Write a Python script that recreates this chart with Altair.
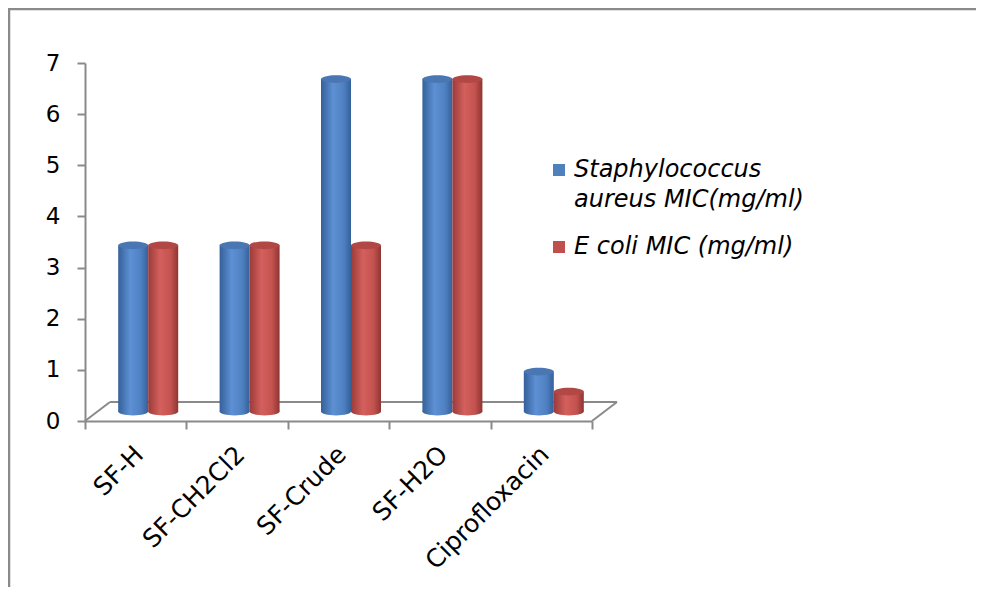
import altair as alt
import pandas as pd

# ---------------- data ----------------
categories = ["SF-H", "SF-CH2Cl2", "SF-Crude", "SF-H2O", "Ciprofloxacin"]
series = ["Staphylococcus aureus MIC(mg/ml)", "E coli MIC (mg/ml)"]
staph = [3.25, 3.25, 6.5, 6.5, 0.78]
ecoli = [3.25, 3.25, 3.25, 6.5, 0.39]
y_ticks = [0, 1, 2, 3, 4, 5, 6, 7]

rows = []
for c, s, e in zip(categories, staph, ecoli):
    rows.append({"category": c, "series": series[0], "value": s})
    rows.append({"category": c, "series": series[1], "value": e})
df = pd.DataFrame(rows)

# ---------------- styling ----------------
W, H = 507, 358
PAD = {"left": 77, "top": 55, "right": 386, "bottom": 168}
DX, DY = 12.5, 9.5          # depth offset of the pseudo-3D floor
BAR_W = 30
GRAY = "#8a8a8a"
FONT = "DejaVu Sans"
ELLIPSE = "M-1,0 A1,0.26 0 1,1 1,0 A1,0.26 0 1,1 -1,0 Z"

def grad(stops):
    return alt.Gradient(
        gradient="linear", x1=0, x2=1, y1=0, y2=0,
        stops=[alt.GradientStop(color=c, offset=o) for o, c in stops],
    )

blue_grad = grad([(0, "#35609a"), (0.4, "#5d90d4"), (0.75, "#4f81c2"), (1, "#35609a")])
red_grad = grad([(0, "#9a3b39"), (0.4, "#d4605d"), (0.75, "#c4524f"), (1, "#8e3532")])

x_enc = alt.X(
    "category:N", sort=categories,
    scale=alt.Scale(paddingInner=0, paddingOuter=0),
    axis=alt.Axis(
        title=None, labelAngle=-45, labelAlign="right", labelBaseline="middle",
        labelPadding=21, labelOffset=3, labelFont=FONT, labelFontSize=25,
        labelColor="black", domainColor=GRAY, domainWidth=2, tickColor=GRAY,
        tickWidth=2, tickSize=8, tickBand="extent", labelOverlap=False,
    ),
)
y_enc = alt.Y(
    "value:Q",
    scale=alt.Scale(domain=[0, 7], nice=False, zero=True),
    axis=alt.Axis(
        title=None, values=y_ticks, grid=False, labelFont=FONT, labelFontSize=23,
        labelColor="black", labelPadding=17, tickSize=8, tickColor=GRAY,
        tickWidth=2, domainColor=GRAY, domainWidth=2, labelFlush=False,
        labelOverlap=False,
    ),
)


def cylinder(name, g, top_col, xoff):
    base = alt.Chart(df).transform_filter(alt.datum.series == name)
    bottom = base.mark_point(
        shape=ELLIPSE, size=BAR_W ** 2, filled=True, fill=g, opacity=1,
        strokeWidth=0, xOffset=xoff, yOffset=-DY,
    ).encode(x=x_enc, y=alt.datum(0))
    body = base.mark_bar(
        width=BAR_W, xOffset=xoff, yOffset=-DY, y2Offset=-DY, fill=g, strokeWidth=0,
    ).encode(x=x_enc, y=y_enc, y2=alt.datum(0))
    top = base.mark_point(
        shape=ELLIPSE, size=BAR_W ** 2, filled=True, fill=top_col, opacity=1,
        strokeWidth=0, xOffset=xoff, yOffset=-DY,
    ).encode(x=x_enc, y=y_enc)
    return [bottom, body, top]


one = alt.Data(values=[{"k": 1}])

# pseudo-3D floor (back edge and side edges)
floor_back = alt.Chart(one).mark_rule(color=GRAY, strokeWidth=2).encode(
    x=alt.value(2 * DX), x2=alt.value(W + 2 * DX), y=alt.value(H - 2 * DY)
)
floor_left = alt.Chart(one).mark_rule(color=GRAY, strokeWidth=2).encode(
    x=alt.value(0), y=alt.value(H), x2=alt.value(2 * DX), y2=alt.value(H - 2 * DY)
)
floor_right = alt.Chart(one).mark_rule(color=GRAY, strokeWidth=2).encode(
    x=alt.value(W), y=alt.value(H), x2=alt.value(W + 2 * DX), y2=alt.value(H - 2 * DY)
)

# outer frame of the chart area: top and left sides, kept inside the canvas
frame_top = alt.Chart(one).mark_rule(color=GRAY, strokeWidth=2.5, strokeCap="butt").encode(
    x=alt.value(-76), x2=alt.value(W + PAD["right"] - 2), y=alt.value(-54)
)
frame_left = alt.Chart(one).mark_rule(color=GRAY, strokeWidth=2.5, strokeCap="butt").encode(
    x=alt.value(-76), y=alt.value(-55), y2=alt.value(H + PAD["bottom"] - 2)
)

legend_layer = alt.Chart(df).mark_bar(width=BAR_W, strokeWidth=0).encode(
    x=x_enc, y=alt.datum(0), y2=alt.datum(0),
    color=alt.Color(
        "series:N", sort=series,
        scale=alt.Scale(domain=series, range=["#4f81bd", "#c0504d"]),
        legend=alt.Legend(
            title=None, orient="none", legendX=462, legendY=95,
            symbolType="square", symbolSize=144, symbolStrokeWidth=0,
            labelFont=FONT, labelFontSize=24, labelFontStyle="italic",
            labelColor="black", labelLimit=0, labelOffset=3, rowPadding=23,
            labelExpr="datum.label == 'Staphylococcus aureus MIC(mg/ml)' ? ['Staphylococcus', 'aureus MIC(mg/ml)'] : datum.label",
        ),
    ),
)

layers = [frame_top, frame_left, floor_back, floor_left, floor_right, legend_layer]
layers += cylinder(series[0], blue_grad, "#4a77b3", DX - BAR_W / 2)
layers += cylinder(series[1], red_grad, "#b24845", DX + BAR_W / 2)

chart = (
    alt.layer(*layers)
    .properties(
        width=W, height=H,
        autosize=alt.AutoSizeParams(type="none"),
        padding=PAD,
        background="white",
    )
    .configure(style={"guide-label": {"lineHeight": 30}})
    .configure_view(strokeWidth=0)
)

chart.save("out.html", embed_options={"renderer": "svg", "actions": False})
